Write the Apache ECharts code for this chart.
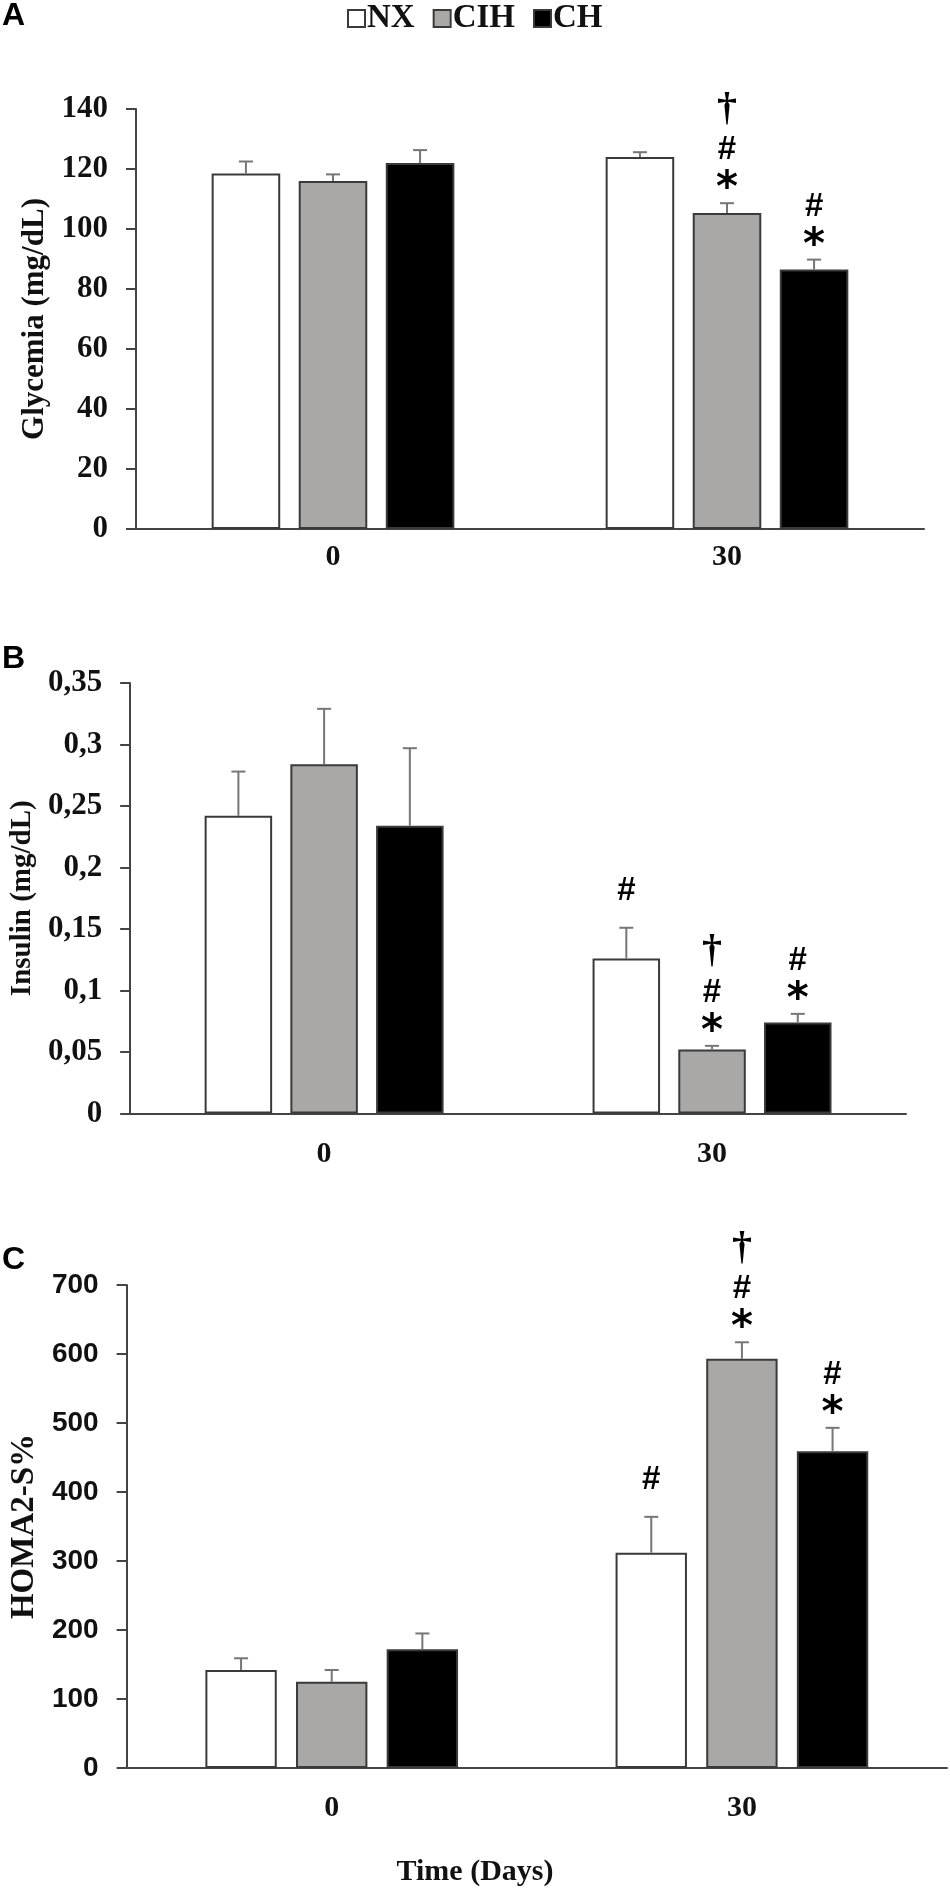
<!DOCTYPE html>
<html><head><meta charset="utf-8">
<script src="https://cdn.jsdelivr.net/npm/echarts@6/dist/echarts.min.js"></script>
<style>html,body{margin:0;padding:0;background:#fff}#c{width:950px;height:1889px}</style>
</head><body><div id="c"></div>
<script>
// ---------- data ----------
const days = ['0', '30'];
const groups = ['NX', 'CIH', 'CH'];
const groupColors = ['#ffffff', '#aaa7a7', '#000000'];

// A: Glycemia (mg/dL)
const glyTicks = [0, 140, 20];
const glyNX = [118.5, 124.0];
const glyNXErr = [4.0, 1.6];
const glyCIH = [116.0, 105.3];
const glyCIHErr = [2.2, 3.3];
const glyCH = [122.0, 86.5];
const glyCHErr = [4.3, 3.3];
const glyNXSig = ['', ''];
const glyCIHSig = ['', '*#†'];
const glyCHSig = ['', '*#'];

// B: Insulin (mg/dL)
const insTicks = [0, 0.35, 0.05];
const insNX = [0.242, 0.126];
const insNXErr = [0.036, 0.025];
const insCIH = [0.284, 0.052];
const insCIHErr = [0.045, 0.003];
const insCH = [0.234, 0.074];
const insCHErr = [0.063, 0.007];
const insNXSig = ['', '#'];
const insCIHSig = ['', '*#†'];
const insCHSig = ['', '*#'];

// C: HOMA2-S%
const homaTicks = [0, 700, 100];
const homaNX = [142, 312];
const homaNXErr = [17, 52];
const homaCIH = [125, 593];
const homaCIHErr = [17, 24];
const homaCH = [172, 459];
const homaCHErr = [23, 34];
const homaNXSig = ['', '#'];
const homaCIHSig = ['', '*#†'];
const homaCHSig = ['', '*#'];

// ---------- styling ----------
const BAR_FRAC = 0.174;
const BAR_GAP = 0.27;
const SERIF = '"Liberation Serif", "Times New Roman", serif';
const SANS = '"Liberation Sans", Arial, sans-serif';
const AXIS = '#444';

const panels = [
  { grid: {left: 136, top: 109, width: 788, height: 420}, ticks: glyTicks,
    name: 'Glycemia (mg/dL)', nameGap: 81, nameSize: 31, tickFont: SERIF, tickSize: 31, labMargin: 13, lblFmt: v => String(v),
    means: [glyNX, glyCIH, glyCH], errs: [glyNXErr, glyCIHErr, glyCHErr], sigs: [glyNXSig, glyCIHSig, glyCHSig] },
  { grid: {left: 124, top: 683, width: 782, height: 430.5}, ticks: insTicks,
    name: 'Insulin (mg/dL)', nameGap: 84, nameSize: 29, tickFont: SERIF, tickSize: 31, labMargin: 26, lblFmt: v => String(Math.round(v * 100) / 100).replace('.', ','),
    means: [insNX, insCIH, insCH], errs: [insNXErr, insCIHErr, insCHErr], sigs: [insNXSig, insCIHSig, insCHSig] },
  { grid: {left: 122, top: 1285, width: 825, height: 483}, ticks: homaTicks,
    name: 'HOMA2-S%', nameGap: 82, nameSize: 33, tickFont: SANS, tickSize: 28, labMargin: 25, lblFmt: v => String(v),
    means: [homaNX, homaCIH, homaCH], errs: [homaNXErr, homaCIHErr, homaCHErr], sigs: [homaNXSig, homaCIHSig, homaCHSig] }
];

const symStyle = {
  '*': {font: 'bold 42px "DejaVu Sans"', first: 23, step: 31, dy: 10},
  '#': {font: 'bold 33px ' + SANS, first: 38, step: 31, dy: 1},
  '†': {font: 'bold 40px ' + SERIF, first: 40, step: 40, dy: 0}
};

function errSeries(p, g, means, errs, sigs) {
  return {
    type: 'custom', xAxisIndex: p, yAxisIndex: p, z: 5, silent: true, clip: false,
    data: means.map((m, i) => [i, m, errs[i]]),
    renderItem: function (params, api) {
      const cat = api.value(0), mean = api.value(1), err = api.value(2);
      const band = api.size([1, 0])[0];
      const bw = band * BAR_FRAC;
      const x = api.coord([cat, 0])[0] + (g - 1) * bw * (1 + BAR_GAP);
      const yBar = api.coord([cat, mean])[1];
      const yTop = api.coord([cat, mean + err])[1];
      const ls = {stroke: '#767676', lineWidth: 2};
      const children = [
        {type: 'line', shape: {x1: x, y1: yBar, x2: x, y2: yTop}, style: ls},
        {type: 'line', shape: {x1: x - 7, y1: yTop, x2: x + 7, y2: yTop}, style: ls}
      ];
      const chars = Array.from(sigs[params.dataIndex] || '');
      let y = yTop;
      chars.forEach((ch, k) => {
        const st = symStyle[ch];
        y = (k === 0) ? yTop - st.first : y - st.step;
        children.push({type: 'text', style: {text: ch, x: x, y: y + st.dy, textAlign: 'center', textVerticalAlign: 'middle', font: st.font, fill: '#000'}});
      });
      return {type: 'group', children: children};
    }
  };
}

const grids = [], xAxes = [], yAxes = [], series = [];
panels.forEach((P, p) => {
  grids.push(P.grid);
  xAxes.push({
    type: 'category', gridIndex: p, data: days, boundaryGap: true,
    axisLine: {lineStyle: {color: AXIS, width: 2}},
    axisTick: {length: 10, lineStyle: {color: AXIS, width: 2}},
    axisLabel: {margin: P.labMargin, fontFamily: SERIF, fontWeight: 'bold', fontSize: 30, color: '#111'}
  });
  yAxes.push({
    type: 'value', gridIndex: p, min: P.ticks[0], max: P.ticks[1], interval: P.ticks[2],
    name: P.name, nameLocation: 'middle', nameGap: P.nameGap,
    nameTextStyle: {fontFamily: SERIF, fontWeight: 'bold', fontSize: P.nameSize, color: '#111'},
    axisLine: {show: true, lineStyle: {color: AXIS, width: 2}},
    axisTick: {show: true, length: 10, lineStyle: {color: AXIS, width: 2}},
    splitLine: {show: false},
    axisLabel: {margin: 28, fontFamily: P.tickFont, fontWeight: 'bold', fontSize: P.tickSize, color: '#111', formatter: P.lblFmt}
  });
  groups.forEach((gname, g) => {
    series.push({
      type: 'bar', name: gname, xAxisIndex: p, yAxisIndex: p,
      data: P.means[g], barWidth: (BAR_FRAC * 100) + '%', barGap: (BAR_GAP * 100) + '%',
      itemStyle: {color: groupColors[g], borderColor: '#3a3a3a', borderWidth: 2},
      silent: true, animation: false
    });
  });
  groups.forEach((gname, g) => {
    series.push(errSeries(p, g, P.means[g], P.errs[g], P.sigs[g]));
  });
});

const chart = echarts.init(document.getElementById('c'), null, {renderer: 'canvas'});
chart.setOption({
  animation: false,
  backgroundColor: '#fff',
  legend: {
    data: groups, top: -3, left: 342, icon: 'rect', itemWidth: 17, itemHeight: 17, itemGap: 18,
    textStyle: {fontFamily: SERIF, fontWeight: 'bold', fontSize: 33, color: '#111', padding: [0, 0, 0, -3]},
    selectedMode: false
  },
  grid: grids, xAxis: xAxes, yAxis: yAxes, series: series,
  graphic: [
    {type: 'text', left: 2, top: 0, style: {text: 'A', font: 'bold 32px ' + SANS, fill: '#000'}},
    {type: 'text', left: 2, top: 643, style: {text: 'B', font: 'bold 32px ' + SANS, fill: '#000'}},
    {type: 'text', left: 2, top: 1244, style: {text: 'C', font: 'bold 32px ' + SANS, fill: '#000'}},
    {type: 'text', x: 475, y: 1872, style: {text: 'Time (Days)', font: 'bold 30px ' + SERIF, fill: '#111', textAlign: 'center', textVerticalAlign: 'middle'}}
  ]
});
</script>
</body></html>
